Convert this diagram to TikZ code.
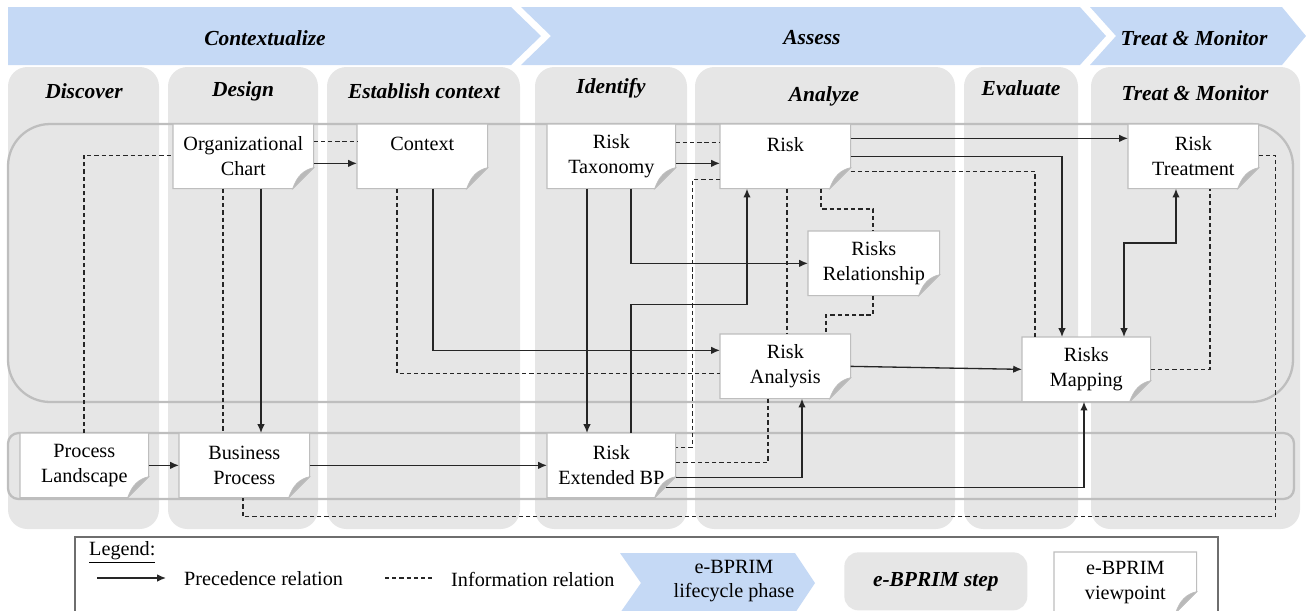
\documentclass[tikz,border=0pt]{standalone}
\usepackage{fontspec}
\setmainfont{Liberation Serif}
\usepackage{tikz}
\usetikzlibrary{calc,positioning,arrows.meta,backgrounds}
\pgfdeclarelayer{back}
\pgfsetlayers{background,back,main}

\definecolor{phaseblue}{RGB}{197,217,245}
\definecolor{stepgray}{RGB}{230,230,230}
\definecolor{layergray}{RGB}{190,190,190}
\definecolor{vpgray}{RGB}{190,190,190}
\definecolor{foldgray}{RGB}{185,185,185}
\definecolor{legendgray}{RGB}{110,110,110}

\begin{document}
\begin{tikzpicture}[x=0.02cm,y=-0.02cm,
    viewpoint/.style={draw=none,anchor=north west,align=center,inner sep=0pt,
      minimum width=2.6cm,minimum height=1.28cm,font=\fontsize{11.5}{14}\selectfont},
    steplabel/.style={font=\fontsize{12.2}{14}\selectfont\bfseries\itshape},
    plain/.style={font=\fontsize{11.5}{14}\selectfont},
    prec/.style={-{Latex[length=5pt,width=4.2pt]},line width=0.75pt,black!85},
    info/.style={dash pattern=on 2.4pt off 1.7pt,line width=0.7pt,black!85}]

  \useasboundingbox (0,0) rectangle (1306,610);

  %% lifecycle phases
  \fill[phaseblue] (8,7) -- (511,7) -- (541,36) -- (511,65) -- (8,65) -- cycle;
  \fill[phaseblue] (521,7) -- (1080,7) -- (1106,36) -- (1080,65) -- (521,65) -- (551,36) -- cycle;
  \fill[phaseblue] (1090,7) -- (1282,7) -- (1306,36) -- (1282,65) -- (1090,65) -- (1116,36) -- cycle;
  \node (phase_ctx) [steplabel] at (265,38) {Contextualize};
  \node (phase_assess) [steplabel] at (812,38) {Assess};
  \node (phase_treat) [steplabel] at (1194,38) {Treat \& Monitor};

  %% steps
  \begin{pgfonlayer}{background}
    \foreach \l/\r in {8/159,168/318,327/520,535/687,695/955,964/1078,1091/1300}
      \fill[stepgray,rounded corners=11pt] (\l,67) rectangle (\r,529);
    \filldraw[fill=white,draw=legendgray,line width=0.8pt] (75,537) rectangle (1218,640);
  \end{pgfonlayer}

  \foreach \x/\y/\name/\txt in {84/91/discover/Discover,243/91/design/Design,
      424/91/establish/Establish context,611/88/identify/Identify,824/96/analyze/Analyze,
      1021/88/evaluate/Evaluate,1195/93/treat/Treat \& Monitor}
    \node (step_\name) [steplabel] at (\x,\y) {\txt};

  %% viewpoints
  \node (org_chart) [viewpoint,minimum width=2.8cm] at (173,124) {Organizational\\Chart};
  \node (context) [viewpoint] at (357,124) {Context\\~};
  \node (risk_taxonomy) [viewpoint,minimum width=2.56cm] at (547,124) {Risk\\Taxonomy};
  \node (risk) [viewpoint] at (720,124) {Risk\\~};
  \node (risks_rel) [viewpoint,minimum width=2.62cm] at (808,231) {Risks\\Relationship};
  \node (risk_analysis) [viewpoint] at (720,334) {Risk\\Analysis};
  \node (risks_mapping) [viewpoint,minimum width=2.56cm] at (1022,337) {Risks\\Mapping};
  \node (risk_treatment) [viewpoint] at (1128,124) {Risk\\Treatment};
  \node (proc_land) [viewpoint,minimum width=2.56cm] at (20,433) {Process\\Landscape};
  \node (bus_proc) [viewpoint] at (179,433) {Business\\Process};
  \node (risk_ext_bp) [viewpoint,minimum width=2.56cm] at (547,433) {Risk\\Extended BP};
  \node (legend_vp) [viewpoint,minimum width=2.84cm,minimum height=1.2cm] at (1054,552) {e-BPRIM\\viewpoint};

  \begin{pgfonlayer}{back}
    \draw[layergray,line width=1.3pt,rounded corners=24pt] (8,124) rectangle (1293,402);
    \draw[layergray,line width=1.3pt,rounded corners=6pt] (8,433) rectangle (1294,499);
    \foreach \v in {org_chart,context,risk_taxonomy,risk,risks_rel,risk_analysis,risks_mapping,
        risk_treatment,proc_land,bus_proc,risk_ext_bp,legend_vp}
    {
      \filldraw[fill=white,draw=vpgray,line width=0.6pt] (\v.north west) -- (\v.north east)
        -- ($(\v.south east)+(0,-21)$) -- ($(\v.south east)+(-21,0)$) -- (\v.south west) -- cycle;
      \filldraw[fill=foldgray,draw=vpgray,line width=0.4pt] ($(\v.south east)+(0,-21)$)
        .. controls ($(\v.south east)+(-10,-19)$) and ($(\v.south east)+(-17,-12)$) .. ($(\v.south east)+(-21,0)$) -- cycle;
    }
  \end{pgfonlayer}

  %% precedence relations
  \draw[prec] ($(org_chart.east)+(0,7)$) -- ($(context.west)+(0,7)$);
  \draw[prec] ($(org_chart.south west)+(88,0)$) -- ($(bus_proc.north west)+(82,0)$);
  \draw[prec] ($(context.south west)+(76,0)$) |- ($(risk_analysis.west)+(0,-16)$);
  \draw[prec] ($(risk_taxonomy.east)+(0,7)$) -- ($(risk.west)+(0,7)$);
  \draw[prec] ($(risk_taxonomy.south west)+(40,0)$) -- ($(risk_ext_bp.north west)+(40,0)$);
  \draw[prec] ($(risk_taxonomy.south west)+(84,0)$) |- (risks_rel.west);
  \draw[prec] ($(risk_ext_bp.north west)+(84,0)$) |- ($(risk.south west)+(27,116)$) -- ($(risk.south west)+(27,0)$);
  \draw[prec] ($(risk.east)+(0,-18)$) -- ($(risk_treatment.west)+(0,-18)$);
  \draw[prec] (risk.east) -| ($(risks_mapping.north west)+(40,0)$);
  \draw[prec,{Latex[length=5pt,width=4.2pt]}-{Latex[length=5pt,width=4.2pt]}] ($(risk_treatment.south west)+(48,0)$)
    |- ($(risks_mapping.north west)+(102,-94)$) -- ($(risks_mapping.north west)+(102,0)$);
  \draw[prec] (risk_analysis.east) -- (risks_mapping.west);
  \draw[prec] (proc_land.east) -- (bus_proc.west);
  \draw[prec] (bus_proc.east) -- (risk_ext_bp.west);
  \draw[prec] ($(risk_ext_bp.east)+(0,12)$) -| ($(risk_analysis.south west)+(82,0)$);
  \draw[prec] ($(risk_ext_bp.south east)+(-10,-10)$) -| ($(risks_mapping.south west)+(62,0)$);

  %% information relations
  \draw[info] ($(proc_land.north west)+(64,0)$) |- ($(org_chart.west)+(0,-1)$);
  \draw[info] ($(org_chart.south west)+(50,0)$) -- ($(bus_proc.north west)+(44,0)$);
  \draw[info] ($(org_chart.east)+(0,-15)$) -- ($(context.west)+(0,-15)$);
  \draw[info] ($(context.south west)+(40,0)$) |- ($(risk_analysis.west)+(0,7)$);
  \draw[info] ($(risk_taxonomy.east)+(0,-14)$) -- ($(risk.west)+(0,-14)$);
  \draw[info] ($(risk.west)+(0,23)$) -| ($(risk_ext_bp.east)+(17,-18)$) -- ($(risk_ext_bp.east)+(0,-18)$);
  \draw[info] ($(risk.south west)+(101,0)$) |- ($(risks_rel.north west)+(65,-22)$) -- ($(risks_rel.north west)+(65,0)$);
  \draw[info] ($(risk.south west)+(67,0)$) -- ($(risk_analysis.north west)+(67,0)$);
  \draw[info] ($(risks_rel.south west)+(65,0)$) |- ($(risk_analysis.north west)+(106,-19)$) -- ($(risk_analysis.north west)+(106,0)$);
  \draw[info] ($(risk.east)+(0,15)$) -| ($(risks_mapping.north west)+(13,0)$);
  \draw[info] ($(risk_analysis.south west)+(48,0)$) |- ($(risk_ext_bp.east)+(0,-3)$);
  \draw[info] (risks_mapping.east) -| ($(risk_treatment.south west)+(82,0)$);
  \draw[info] ($(risk_treatment.east)+(0,-1)$) -- ++(17,0) |- ($(bus_proc.south west)+(64,19)$) -- ($(bus_proc.south west)+(64,0)$);

  %% legend
  \node (legend_title) [plain,anchor=west] at (83,552) {\underline{Legend:}};
  \coordinate (leg_prec_a) at (97,578);
  \coordinate (leg_prec_b) at (166,578);
  \draw[prec] (leg_prec_a) -- (leg_prec_b);
  \node (leg_prec) [plain,anchor=west] at (178,579) {Precedence relation};
  \coordinate (leg_info_a) at (385,578);
  \coordinate (leg_info_b) at (432,578);
  \draw[info] (leg_info_a) -- (leg_info_b);
  \node (leg_info) [plain,anchor=west] at (445,579) {Information relation};
  \fill[phaseblue] (620,553) -- (795,553) -- (815,583) -- (795,613) -- (620,613) -- (641,583) -- cycle;
  \node (legend_phase) [plain,align=center] at (734,581) {e-BPRIM\\lifecycle phase};
  \node (legend_step) [steplabel,fill=stepgray,rounded corners=8pt,anchor=north west,
    minimum width=3.66cm,minimum height=1.16cm] at (844,552) {e-BPRIM step};

\end{tikzpicture}
\end{document}
